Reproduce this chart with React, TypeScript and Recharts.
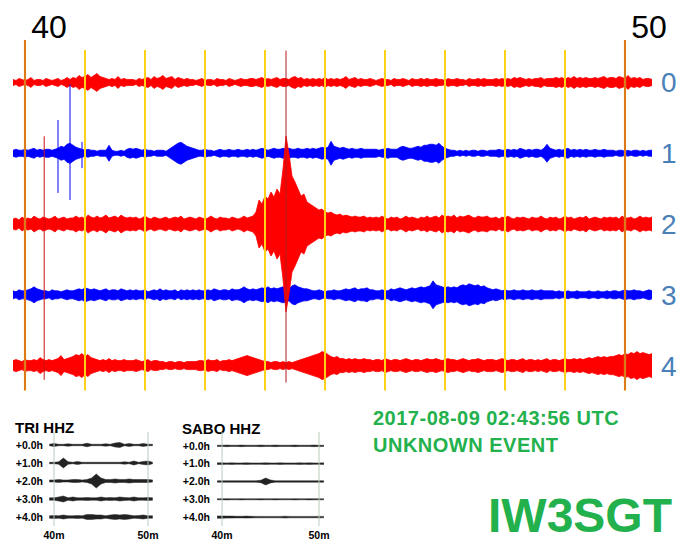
import React from 'react';
import { ComposedChart, Area, XAxis, YAxis, ReferenceLine } from 'recharts';

// main helicorder: 5 lines, one envelope sample every 0.05 min starting at 39.8
const SAMPLE_START = 39.8;
const SAMPLE_STEP = 0.05;
const HOUR_TICKS = [40, 50];
const GRID_MINUTES = [41, 42, 43, 44, 45, 46, 47, 48, 49];
const LINE_LABELS = ['0', '1', '2', '3', '4'];
const LINE_COLORS = ['#ff0000', '#0000ff', '#ff0000', '#0000ff', '#ff0000'];

// half amplitude of each line (counts), 20 samples per row = 1 minute
const LINE_0 = [
  3, 2, 4, 3, 2, 3, 5, 2, 3, 3, 2, 4, 3, 2, 3, 4, 2, 3, 5, 3,
  5, 4, 7, 5, 6, 8, 5, 7, 9, 6, 5, 4, 3, 4, 3, 6, 3, 4, 3, 3,
  3, 2, 4, 3, 4, 5, 3, 6, 4, 5, 7, 4, 5, 6, 3, 5, 4, 3, 4, 3,
  3, 2, 3, 4, 2, 3, 3, 2, 4, 3, 3, 2, 4, 3, 2, 3, 4, 3, 3, 4,
  4, 3, 4, 5, 3, 4, 3, 4, 5, 3, 4, 4, 3, 5, 6, 4, 5, 3, 4, 3,
  4, 3, 4, 3, 5, 3, 4, 3, 4, 3, 4, 6, 3, 4, 5, 3, 4, 3, 3, 4,
  3, 2, 3, 4, 3, 3, 2, 4, 3, 3, 4, 3, 2, 4, 3, 3, 4, 3, 4, 3,
  3, 4, 3, 3, 2, 4, 3, 3, 4, 3, 3, 2, 4, 3, 3, 4, 3, 4, 3, 3,
  3, 4, 3, 4, 3, 4, 3, 5, 4, 5, 4, 3, 4, 3, 4, 4, 5, 3, 4, 4,
  4, 5, 4, 5, 3, 5, 4, 6, 4, 5, 4, 5, 4, 4, 5, 4, 5, 6, 4, 5,
  5, 4, 6, 5, 4, 7, 4, 5, 4, 5, 3, 4, 4, 3,
];
const LINE_1 = [
  3, 4, 3, 3, 4, 3, 4, 5, 3, 4, 3, 4, 4, 3, 4, 5, 7, 6, 9, 10,
  8, 6, 5, 4, 3, 4, 3, 3, 2, 3, 3, 3, 8, 3, 2, 2, 3, 2, 4, 5,
  4, 5, 4, 3, 4, 3, 3, 2, 3, 3, 3, 2, 4, 6, 8, 10, 11, 9, 7, 6,
  5, 4, 3, 3, 4, 3, 3, 2, 3, 4, 3, 3, 4, 3, 3, 4, 3, 3, 4, 3,
  4, 3, 4, 5, 4, 3, 4, 5, 4, 4, 5, 4, 5, 4, 4, 5, 4, 4, 5, 4,
  5, 4, 5, 6, 5, 6, 12, 7, 6, 5, 6, 5, 4, 5, 4, 4, 5, 4, 4, 4,
  4, 4, 3, 4, 4, 5, 4, 4, 4, 6, 7, 6, 5, 5, 6, 7, 6, 8, 8, 9,
  9, 8, 10, 7, 5, 4, 3, 3, 2, 3, 2, 3, 2, 3, 3, 2, 3, 3, 2, 3,
  3, 3, 4, 3, 3, 4, 3, 4, 3, 5, 4, 3, 4, 3, 4, 4, 3, 5, 9, 5,
  4, 3, 4, 3, 4, 5, 3, 4, 3, 4, 3, 4, 3, 3, 4, 3, 3, 4, 3, 3,
  3, 2, 3, 3, 2, 3, 2, 3, 3, 2, 3, 2, 3, 3,
];
const LINE_2 = [
  5, 6, 4, 7, 5, 6, 5, 8, 6, 5, 7, 6, 5, 6, 8, 5, 6, 7, 5, 6,
  6, 8, 6, 7, 5, 9, 7, 6, 8, 6, 7, 9, 6, 7, 8, 6, 9, 7, 6, 7,
  6, 7, 5, 6, 8, 6, 5, 7, 6, 5, 6, 7, 5, 6, 7, 6, 8, 5, 6, 7,
  6, 5, 7, 6, 5, 6, 8, 6, 5, 7, 6, 6, 5, 7, 6, 5, 6, 8, 6, 7,
  8, 12, 24, 20, 28, 25, 32, 27, 35, 30, 55, 88, 70, 48, 42, 35, 28, 30, 22, 20,
  18, 16, 14, 15, 12, 11, 12, 10, 9, 10, 8, 9, 8, 7, 8, 7, 7, 8, 6, 7,
  6, 7, 6, 8, 6, 5, 7, 6, 7, 5, 6, 8, 6, 7, 6, 5, 7, 6, 8, 6,
  7, 8, 6, 9, 7, 8, 7, 9, 6, 8, 7, 8, 9, 7, 6, 8, 7, 7, 8, 6,
  6, 7, 5, 7, 6, 8, 6, 5, 7, 6, 7, 6, 5, 7, 6, 6, 8, 6, 5, 7,
  6, 7, 5, 6, 8, 6, 7, 5, 6, 7, 6, 8, 5, 6, 7, 6, 5, 7, 6, 7,
  6, 7, 5, 8, 6, 6, 7, 5, 6, 8, 6, 7, 6, 7,
];
const LINE_3 = [
  4, 3, 5, 4, 4, 5, 6, 8, 6, 5, 4, 4, 3, 5, 4, 4, 3, 4, 5, 4,
  4, 5, 6, 5, 7, 6, 5, 6, 5, 4, 5, 6, 4, 5, 5, 4, 6, 5, 4, 5,
  4, 5, 4, 4, 5, 3, 4, 5, 4, 6, 4, 5, 4, 4, 5, 3, 5, 4, 5, 4,
  5, 4, 5, 4, 4, 5, 4, 6, 5, 4, 5, 5, 4, 6, 5, 5, 6, 8, 6, 5,
  6, 5, 6, 7, 6, 8, 6, 7, 6, 7, 8, 7, 6, 9, 10, 8, 7, 6, 6, 5,
  4, 4, 5, 4, 3, 4, 4, 5, 4, 4, 5, 6, 5, 6, 7, 5, 6, 6, 7, 5,
  5, 4, 4, 5, 4, 4, 6, 5, 6, 7, 6, 5, 6, 7, 6, 7, 8, 7, 8, 9,
  14, 10, 9, 8, 7, 8, 7, 8, 7, 9, 10, 9, 11, 10, 9, 10, 8, 9, 7, 6,
  5, 6, 5, 4, 5, 4, 4, 5, 4, 4, 5, 4, 4, 5, 4, 4, 5, 4, 4, 4,
  4, 3, 4, 3, 3, 4, 3, 3, 4, 3, 3, 3, 4, 3, 3, 4, 3, 3, 4, 3,
  4, 4, 3, 4, 5, 4, 4, 5, 4, 4, 3, 4, 5, 4,
];
const LINE_4 = [
  5, 6, 5, 4, 6, 5, 5, 6, 5, 8, 6, 5, 6, 5, 6, 7, 10, 6, 7, 8,
  9, 11, 10, 12, 9, 11, 8, 7, 6, 5, 6, 5, 7, 5, 6, 5, 5, 6, 5, 5,
  5, 6, 5, 4, 5, 6, 4, 5, 5, 4, 4, 3, 4, 4, 3, 4, 4, 3, 4, 4,
  4, 4, 5, 5, 4, 6, 5, 5, 6, 4, 5, 5, 6, 5, 6, 7, 8, 9, 10, 9,
  8, 7, 6, 5, 4, 4, 3, 4, 4, 3, 4, 3, 4, 3, 4, 5, 6, 7, 8, 9,
  10, 11, 12, 14, 13, 11, 9, 8, 9, 7, 7, 6, 7, 6, 7, 6, 6, 7, 6, 6,
  5, 6, 6, 5, 7, 6, 5, 6, 6, 5, 6, 7, 6, 5, 6, 6, 5, 6, 7, 6,
  6, 7, 6, 5, 6, 7, 6, 6, 5, 6, 7, 6, 5, 6, 6, 7, 6, 5, 6, 6,
  6, 5, 6, 7, 6, 5, 6, 6, 5, 6, 7, 5, 6, 6, 5, 6, 5, 6, 7, 5,
  6, 6, 5, 6, 7, 6, 6, 7, 6, 7, 6, 7, 8, 7, 8, 9, 8, 9, 8, 9,
  9, 10, 11, 10, 12, 11, 13, 12, 14, 12, 13, 12, 11, 12,
];
const LINES = [LINE_0, LINE_1, LINE_2, LINE_3, LINE_4];

// event marker and picks
const EVENT_MINUTE = 44.35;
const RED_PICKS = [40.32];
const BLUE_PICKS = [40.55, 40.75, 40.95];
const BLUE_PICK_SPANS = [[0.53, 1.56], [0.03, 1.66], [0.84, 1.21]];

// small station plots: one sample every 0.5 min starting at 39.5
const INSET_START = 39.5;
const INSET_STEP = 0.5;
const INSET_TICKS = [40, 50];
const INSET_ROWS = [0, 1, 2, 3, 4];
const TRI_0 = [0.7, 1.5, 0.7, 0.7, 1.2, 0.7, 0.7, 0.7, 1.8, 0.7, 0.7, 0.7, 1.2, 0.7, 2, 2.5, 0.7, 1.5, 0.7, 0.7, 1.5, 0.7, 0.7];
const TRI_1 = [0.7, 0.7, 1.2, 5, 1.2, 0.7, 1.5, 0.7, 0.7, 0.7, 0.7, 0.7, 0.7, 0.7, 0.7, 0.7, 1.2, 0.7, 2, 0.7, 1.5, 2, 0.7];
const TRI_2 = [1, 1, 1.5, 1, 1, 1.5, 1.5, 1, 1.5, 3, 7, 3, 1.5, 1.5, 2, 1.5, 1.5, 2, 1.5, 1.5, 1.5, 1.5, 1];
const TRI_3 = [1.2, 1.2, 2, 3, 1.2, 2, 1.2, 1.2, 1.5, 1.2, 1.2, 2, 1.2, 1.5, 1.2, 2, 1.5, 1.2, 2, 1.2, 1.2, 1.5, 1.2];
const TRI_4 = [1.2, 1.5, 1.2, 2, 1.2, 1.2, 1.5, 1.2, 2.5, 2.5, 2, 2, 1.2, 2, 2.5, 2, 2.5, 2, 1.2, 1.5, 2, 1.2, 1.2];
const SABO_0 = [0.6, 0.6, 0.8, 0.6, 0.6, 0.8, 0.6, 0.6, 0.6, 0.8, 0.6, 0.6, 0.8, 0.6, 0.6, 0.6, 0.8, 0.6, 0.6, 0.6, 0.8, 0.6, 0.6];
const SABO_1 = [0.8, 0.8, 0.7, 0.8, 0.7, 0.7, 0.8, 0.7, 0.7, 0.7, 0.8, 0.7, 0.7, 0.8, 0.7, 0.7, 0.7, 0.8, 0.7, 0.8, 0.7, 0.7, 0.8];
const SABO_2 = [0.7, 0.7, 0.7, 0.7, 0.7, 0.7, 0.7, 0.7, 0.7, 1.2, 3.5, 1.5, 0.7, 0.7, 0.7, 0.7, 0.7, 0.7, 0.7, 0.7, 0.7, 0.7, 0.7];
const SABO_3 = [0.5, 0.5, 0.6, 0.5, 0.5, 0.6, 0.5, 0.5, 0.5, 0.6, 0.5, 0.5, 0.6, 0.5, 0.5, 0.5, 0.6, 0.5, 0.5, 0.6, 0.5, 0.5, 0.5];
const SABO_4 = [1.2, 1.2, 1, 1, 0.8, 0.8, 1, 0.8, 0.7, 0.7, 0.7, 0.7, 0.7, 0.7, 0.9, 0.7, 0.7, 0.7, 0.7, 0.7, 0.7, 0.7, 0.7];

const FONT = '"Liberation Sans", Arial, Helvetica, sans-serif';
const GREEN = '#22b14c';
const MAIN_GAIN = 1 / 70.8;
const INSET_GAIN = 1 / 18;

function buildRows(lines: number[][], start: number, step: number, gain: number) {
  return lines[0].map((_, i) => {
    const row: Record<string, number | number[]> = { m: +(start + i * step).toFixed(3) };
    lines.forEach((amp, k) => {
      if (amp[i] !== undefined) row['l' + k] = [k - amp[i] * gain, k + amp[i] * gain];
    });
    return row;
  });
}

const mainRows = buildRows(LINES, SAMPLE_START, SAMPLE_STEP, MAIN_GAIN);
const triRows = buildRows([TRI_0, TRI_1, TRI_2, TRI_3, TRI_4], INSET_START, INSET_STEP, INSET_GAIN);
const saboRows = buildRows([SABO_0, SABO_1, SABO_2, SABO_3, SABO_4], INSET_START, INSET_STEP, INSET_GAIN);

function HourTick(props: any) {
  const { x, payload } = props;
  return (
    <text x={x + 24} y={38} textAnchor="middle" fontSize={32} fill="#000" fontFamily={FONT}>
      {payload.value}
    </text>
  );
}

function LineTick(props: any) {
  const { y, payload } = props;
  return (
    <text x={661} y={y + 10} fontSize={28} fill="#4a80b8" fontFamily={FONT}>
      {LINE_LABELS[payload.value]}
    </text>
  );
}

function MainChart() {
  const drawOrder = [0, 1, 3, 4, 2];
  return (
    <ComposedChart width={685} height={544} data={mainRows} margin={{ top: 0, right: 0, bottom: 0, left: 0 }}>
      <XAxis
        dataKey="m"
        type="number"
        orientation="top"
        domain={[39.5833, 50.5]}
        ticks={HOUR_TICKS}
        height={40}
        axisLine={false}
        tickLine={false}
        tick={<HourTick />}
        allowDataOverflow
      />
      <YAxis
        type="number"
        orientation="right"
        domain={[-0.6, 6.52]}
        reversed
        ticks={[0, 1, 2, 3, 4]}
        width={30}
        axisLine={false}
        tickLine={false}
        tick={<LineTick />}
        allowDataOverflow
      />
      {GRID_MINUTES.map((m) => (
        <ReferenceLine key={'g' + m} segment={[{ x: m, y: -0.46 }, { x: m, y: 4.35 }]} stroke="#ffd21a" strokeWidth={2} />
      ))}
      {HOUR_TICKS.map((m) => (
        <ReferenceLine key={'hy' + m} segment={[{ x: m, y: -0.6 }, { x: m, y: 4.35 }]} stroke="#ffcc22" strokeWidth={2.2} />
      ))}
      {HOUR_TICKS.map((m) => (
        <ReferenceLine key={'hr' + m} segment={[{ x: m, y: -0.6 }, { x: m, y: 4.35 }]} stroke="#b82810" strokeWidth={1} />
      ))}
      {drawOrder.map((k) => (
        <Area
          key={'l' + k}
          dataKey={'l' + k}
          type="linear"
          stroke={LINE_COLORS[k]}
          strokeWidth={0.8}
          fill={LINE_COLORS[k]}
          fillOpacity={1}
          dot={false}
          activeDot={false}
          isAnimationActive={false}
        />
      ))}
      <ReferenceLine segment={[{ x: EVENT_MINUTE, y: -0.45 }, { x: EVENT_MINUTE, y: 4.24 }]} stroke="#b01c1c" strokeWidth={1} />
      {RED_PICKS.map((m) => (
        <ReferenceLine key={'rp' + m} segment={[{ x: m, y: 0.76 }, { x: m, y: 4.2 }]} stroke="#cc1111" strokeWidth={1} />
      ))}
      {BLUE_PICKS.map((m, i) => (
        <ReferenceLine
          key={'bp' + m}
          segment={[{ x: m, y: BLUE_PICK_SPANS[i][0] }, { x: m, y: BLUE_PICK_SPANS[i][1] }]}
          stroke="#0000ff"
          strokeWidth={1}
        />
      ))}
    </ComposedChart>
  );
}

interface InsetProps {
  rows: Record<string, number | number[]>[];
  width: number;
  axisWidth: number;
  right: number;
  xDomain: [number, number];
  yDomain: [number, number];
}

function StationInset({ rows, width, axisWidth, right, xDomain, yDomain }: InsetProps) {
  const tickStyle = { fontSize: 10.5, fontWeight: 'bold' as const, fill: '#000', fontFamily: FONT };
  return (
    <ComposedChart width={width} height={114} data={rows} margin={{ top: 2, right, bottom: 0, left: 0 }}>
      <XAxis
        dataKey="m"
        type="number"
        domain={xDomain}
        ticks={INSET_TICKS}
        tickFormatter={(v) => `${v}m`}
        height={18}
        axisLine={false}
        tickLine={false}
        tickSize={0}
        tick={tickStyle}
        tickMargin={6}
        allowDataOverflow
      />
      <YAxis
        type="number"
        domain={yDomain}
        reversed
        ticks={INSET_ROWS}
        tickFormatter={(v) => `+${v}.0h`}
        width={axisWidth}
        axisLine={false}
        tickLine={false}
        tickSize={0}
        tick={tickStyle}
        tickMargin={3}
        allowDataOverflow
      />
      {INSET_TICKS.map((m) => (
        <ReferenceLine key={m} x={m} stroke="#b8ccbc" strokeWidth={1} />
      ))}
      {INSET_ROWS.map((k) => (
        <Area
          key={k}
          dataKey={'l' + k}
          type="linear"
          stroke="#222"
          strokeWidth={0.5}
          fill="#222"
          fillOpacity={1}
          dot={false}
          activeDot={false}
          isAnimationActive={false}
        />
      ))}
    </ComposedChart>
  );
}

const abs = (left: number, top: number): React.CSSProperties => ({ position: 'absolute', left, top });

export default function App() {
  return (
    <div
      style={{
        position: 'absolute',
        left: 0,
        top: 0,
        width: 685,
        height: 544,
        background: '#fff',
        overflow: 'hidden',
        fontFamily: FONT,
      }}
    >
      <div style={abs(0, 0)}>
        <MainChart />
      </div>
      <div style={{ ...abs(15, 420), fontSize: 15, fontWeight: 'bold', lineHeight: 1 }}>TRI HHZ</div>
      <div style={{ ...abs(182, 421), fontSize: 15, fontWeight: 'bold', lineHeight: 1 }}>SABO HHZ</div>
      <div style={abs(0, 430)}>
        <StationInset rows={triRows} width={170} axisWidth={46} right={14} xDomain={[39.149, 50.85]} yDomain={[-0.722, 4.5]} />
      </div>
      <div style={abs(165, 430)}>
        <StationInset rows={saboRows} width={166} axisWidth={48} right={5} xDomain={[39.072, 50.722]} yDomain={[-0.778, 4.5]} />
      </div>
      <div style={{ ...abs(373, 408), color: GREEN, fontSize: 20, fontWeight: 'bold', lineHeight: 1, letterSpacing: 0.5 }}>
        2017-08-09 02:43:56 UTC
      </div>
      <div style={{ ...abs(373, 435), color: GREEN, fontSize: 20, fontWeight: 'bold', lineHeight: 1, letterSpacing: 0.5 }}>
        UNKNOWN EVENT
      </div>
      <div style={{ ...abs(488, 492), color: GREEN, fontSize: 48, fontWeight: 'bold', lineHeight: 1 }}>IW3SGT</div>
    </div>
  );
}
